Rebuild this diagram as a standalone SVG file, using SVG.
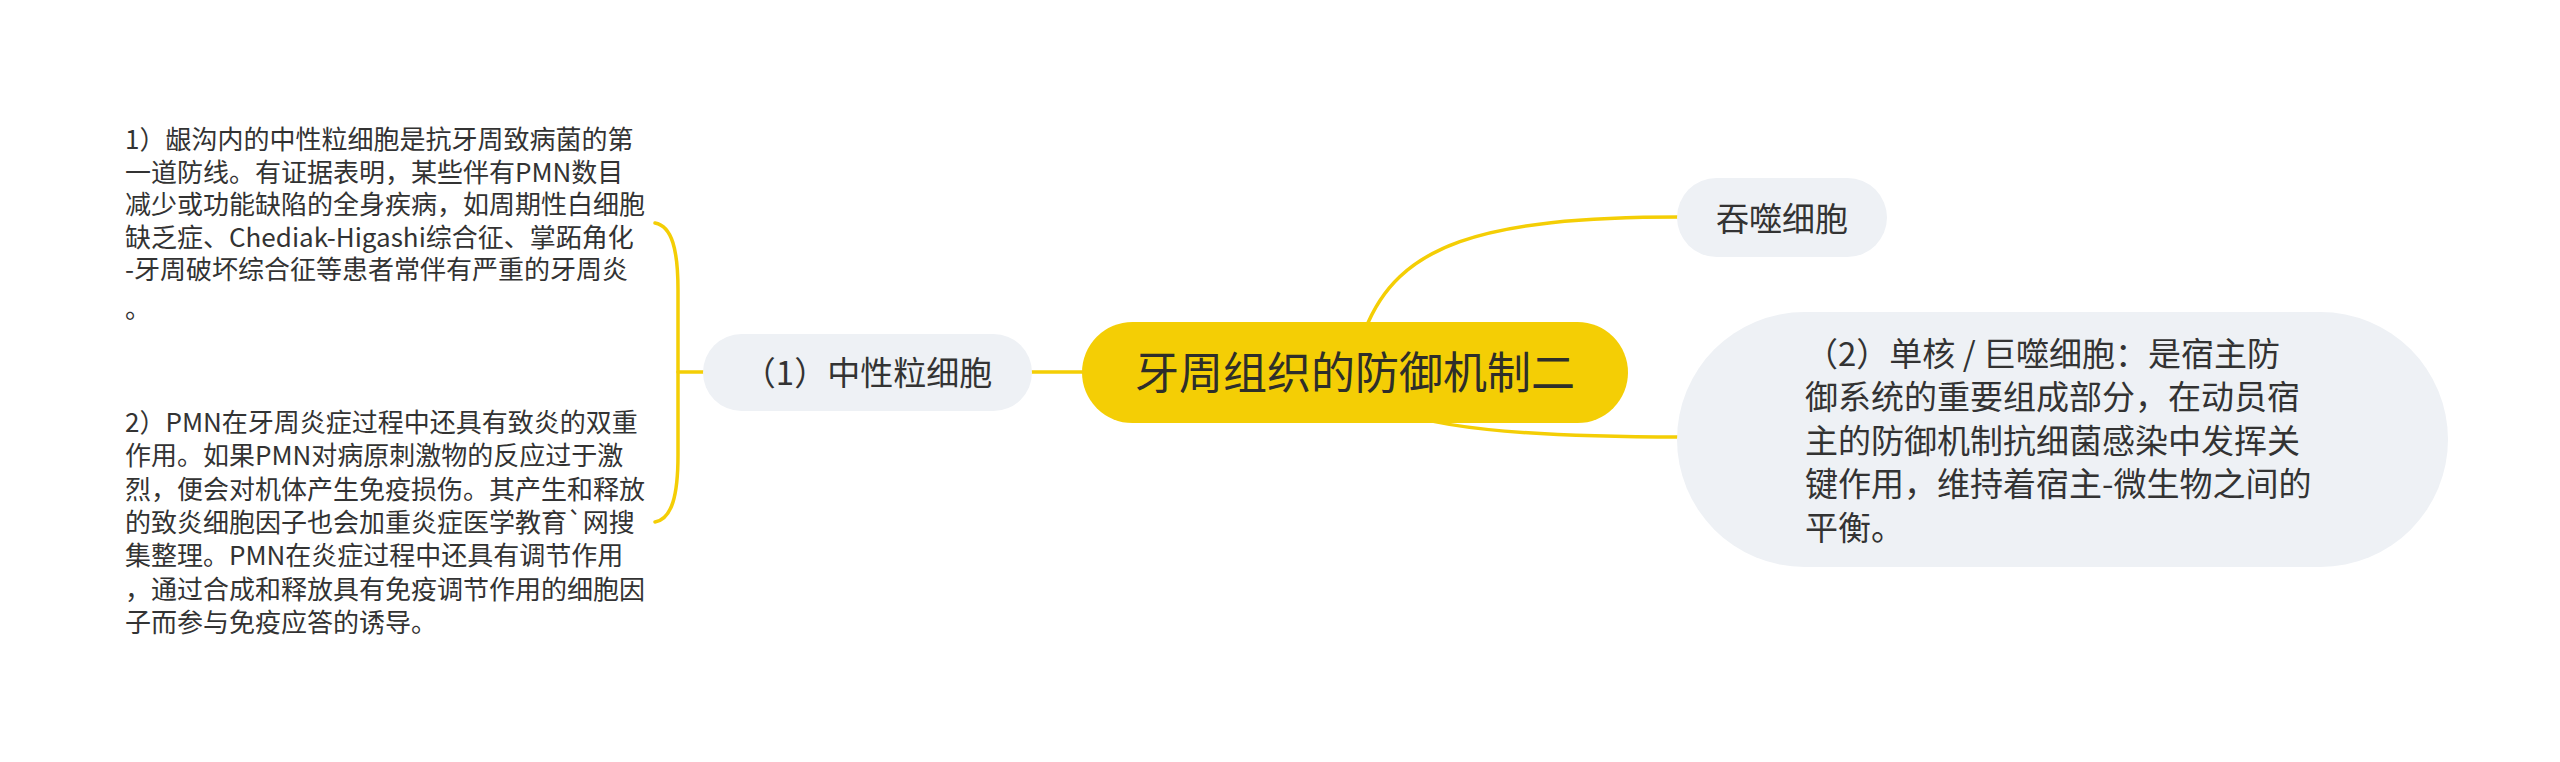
<svg xmlns="http://www.w3.org/2000/svg" width="2560" height="762" viewBox="0 0 2560 762">
<style>
.bg{fill:#ffffff}
.conn{fill:none;stroke:#F4CE05;stroke-width:3.5;stroke-linecap:round}
.sub{fill:#EEF1F5}
.root{fill:#F4CE05}
.t{font-family:"Noto Sans CJK SC","Microsoft YaHei",sans-serif;fill:#333333}
.small{font-size:26px}
.mid{font-size:33px}
.big{font-size:44px;fill:#2e2e2a}
</style>
<rect class="bg" x="0" y="0" width="2560" height="762"/>
<g id="connectors">
<path class="conn" d="M655,223 C672,226 678,250 678,290 L678,455 C678,495 672,519 655,522"/>
<path class="conn" d="M678,372 L703,372"/>
<path class="conn" d="M1032,372 L1090,372"/>
<path class="conn" d="M1365,330 C1398,245 1480,217 1680,217"/>
<path class="conn" d="M1400,412 C1450,432 1560,437 1680,437"/>
</g>
<g id="root">
<rect class="root" x="1082" y="322" width="546" height="101" rx="50.5"/>
<text class="t big" x="1355" y="389" text-anchor="middle">牙周组织的防御机制二</text>
</g>
<g id="node-neutrophil">
<rect class="sub" x="703" y="334" width="329" height="77" rx="38.5"/>
<text class="t mid" x="867.5" y="384.5" text-anchor="middle">（1）中性粒细胞</text>
</g>
<g id="node-neutrophil-1">
<text class="t small" x="125">
<tspan x="125" y="149">1）龈沟内的中性粒细胞是抗牙周致病菌的第</tspan>
<tspan x="125" y="181.5">一道防线。有证据表明，某些伴有PMN数目</tspan>
<tspan x="125" y="214">减少或功能缺陷的全身疾病，如周期性白细胞</tspan>
<tspan x="125" y="246.5">缺乏症、Chediak-Higashi综合征、掌跖角化</tspan>
<tspan x="125" y="279">-牙周破坏综合征等患者常伴有严重的牙周炎</tspan>
<tspan x="125" y="318">。</tspan>
</text>
</g>
<g id="node-neutrophil-2">
<text class="t small" x="125">
<tspan x="125" y="432">2）PMN在牙周炎症过程中还具有致炎的双重</tspan>
<tspan x="125" y="465.3">作用。如果PMN对病原刺激物的反应过于激</tspan>
<tspan x="125" y="498.6">烈，便会对机体产生免疫损伤。其产生和释放</tspan>
<tspan x="125" y="532">的致炎细胞因子也会加重炎症医学教育`网搜</tspan>
<tspan x="125" y="565.2">集整理。PMN在炎症过程中还具有调节作用</tspan>
<tspan x="125" y="598.5">，通过合成和释放具有免疫调节作用的细胞因</tspan>
<tspan x="125" y="631.8">子而参与免疫应答的诱导。</tspan>
</text>
</g>
<g id="node-phagocyte">
<rect class="sub" x="1677" y="178" width="210" height="79" rx="39.5"/>
<text class="t mid" x="1782" y="230.5" text-anchor="middle">吞噬细胞</text>
</g>
<g id="node-macrophage">
<rect class="sub" x="1677" y="312" width="771" height="255" rx="127.5"/>
<text class="t mid" x="1805">
<tspan x="1805" y="365.5">（2）单核 / 巨噬细胞：是宿主防</tspan>
<tspan x="1805" y="409">御系统的重要组成部分，在动员宿</tspan>
<tspan x="1805" y="452.5">主的防御机制抗细菌感染中发挥关</tspan>
<tspan x="1805" y="496">键作用，维持着宿主-微生物之间的</tspan>
<tspan x="1805" y="539.5">平衡。</tspan>
</text>
</g>
</svg>
